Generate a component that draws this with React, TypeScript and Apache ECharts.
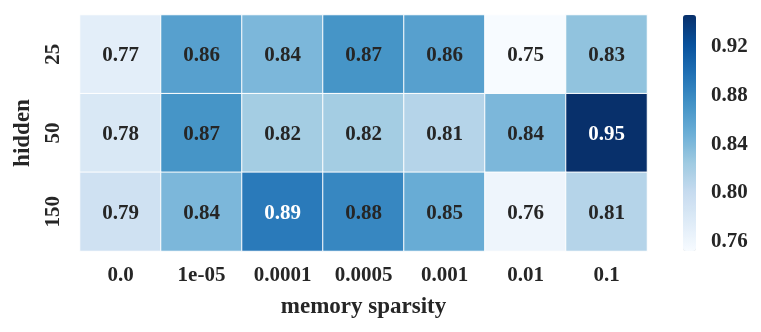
import React, { useEffect, useRef } from "react";
import * as echarts from "echarts";

const sparsity = ["0.0", "1e-05", "0.0001", "0.0005", "0.001", "0.01", "0.1"];
const hidden = ["25", "50", "150"];
const row25 = [0.77, 0.86, 0.84, 0.87, 0.86, 0.75, 0.83];
const row50 = [0.78, 0.87, 0.82, 0.82, 0.81, 0.84, 0.95];
const row150 = [0.79, 0.84, 0.89, 0.88, 0.85, 0.76, 0.81];
const colorbarTicks = [0.76, 0.8, 0.84, 0.88, 0.92];
const colorMin = 0.751;
const colorMax = 0.945;
const blues = ["#f7fbff", "#deebf7", "#c6dbef", "#9ecae1", "#6baed6", "#4292c6", "#2171b5", "#08519c", "#08306b"];

const FONT = "'Liberation Serif', 'Times New Roman', serif";
const TEXT = "#262626";

export default function App() {
  const ref = useRef<HTMLDivElement>(null);
  useEffect(() => {
    if (!ref.current) return;
    const chart = echarts.init(ref.current, undefined, { renderer: "svg" });
    const rows = [row25, row50, row150];
    const data: any[] = [];
    rows.forEach((row, r) => {
      row.forEach((v, c) => {
        data.push({
          value: [c, r, v],
          label: { color: v >= 0.885 ? "#ffffff" : TEXT },
        });
      });
    });
    chart.setOption({
      animation: false,
      grid: [
        { left: 80, right: 114, top: 15, height: 236 },
        { left: 683, width: 13, top: 15, height: 236 },
      ],
      xAxis: [
        {
          type: "category",
          data: sparsity,
          gridIndex: 0,
          axisLine: { show: false },
          axisTick: { show: false },
          splitLine: { show: false },
          axisLabel: { color: TEXT, fontFamily: FONT, fontWeight: "bold", fontSize: 21, margin: 12 },
          name: "memory sparsity",
          nameLocation: "middle",
          nameGap: 43,
          nameTextStyle: { color: TEXT, fontFamily: FONT, fontWeight: "bold", fontSize: 23 },
        },
        { type: "value", gridIndex: 1, show: false, min: 0, max: 1 },
      ],
      yAxis: [
        {
          type: "category",
          data: hidden,
          inverse: true,
          gridIndex: 0,
          axisLine: { show: false },
          axisTick: { show: false },
          splitLine: { show: false },
          axisLabel: { color: TEXT, fontFamily: FONT, fontWeight: "bold", fontSize: 21, rotate: 90, margin: 18 },
          name: "hidden",
          nameLocation: "middle",
          nameGap: 45,
          nameRotate: 90,
          nameTextStyle: { color: TEXT, fontFamily: FONT, fontWeight: "bold", fontSize: 23 },
        },
        {
          type: "value",
          gridIndex: 1,
          position: "right",
          min: colorMin,
          max: colorMax,
          axisLine: { show: false },
          axisTick: { show: false },
          splitLine: { show: false },
          axisLabel: {
            customValues: colorbarTicks,
            color: TEXT,
            fontFamily: FONT,
            fontWeight: "bold",
            fontSize: 21,
            margin: 15,
            formatter: (v: number) => v.toFixed(2),
          },
        },
      ],
      visualMap: {
        type: "continuous",
        seriesIndex: 0,
        min: colorMin,
        max: colorMax,
        calculable: false,
        inRange: { color: blues },
        left: 683,
        top: 15,
        itemWidth: 13,
        itemHeight: 236,
        padding: 0,
        text: ["", ""],
        showLabel: false,
      },
      series: [
        {
          type: "heatmap",
          xAxisIndex: 0,
          yAxisIndex: 0,
          data,
          itemStyle: { borderColor: "#ffffff", borderWidth: 1 },
          label: {
            show: true,
            fontFamily: FONT,
            fontWeight: "bold",
            fontSize: 21,
            formatter: (p: any) => p.value[2].toFixed(2),
          },
          emphasis: { disabled: true },
        },
      ],
    });
    return () => chart.dispose();
  }, []);
  return <div ref={ref} style={{ position: "fixed", left: 0, top: 0, width: 761, height: 332 }} />;
}
